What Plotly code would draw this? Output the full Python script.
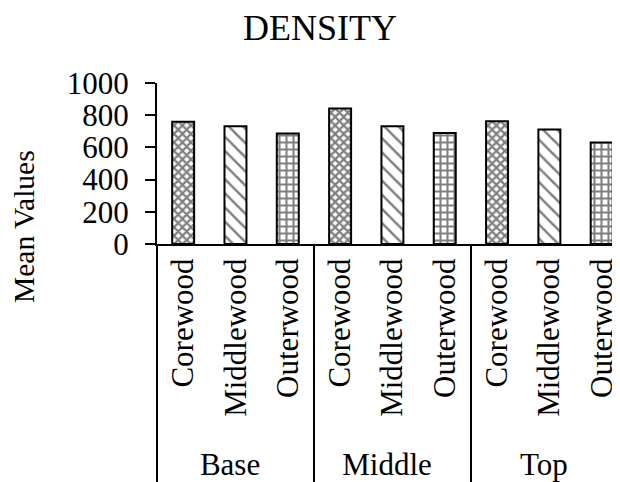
import plotly.graph_objects as go

groups = ["Base", "Base", "Base", "Middle", "Middle", "Middle", "Top", "Top", "Top"]
woods = ["Corewood", "Middlewood", "Outerwood"] * 3
values = [760, 732, 686, 841, 732, 690, 763, 711, 631]
patterns = ["x", "\\", "+"] * 3
pattern_sizes = [6, 10, 7] * 3
pattern_solidity = [0.6, 0.25, 0.5] * 3
y_ticks = [0, 200, 400, 600, 800, 1000]

FONT = "Liberation Serif, Times New Roman, serif"

# the page body adds an 8px margin, so the figure is drawn 8px smaller
W, H = 612, 474

fig = go.Figure(
    go.Bar(
        x=[groups, woods],
        y=values,
        marker=dict(
            color="white",
            line=dict(color="black", width=2),
            pattern=dict(shape=patterns, fgcolor="black", bgcolor="white",
                         size=pattern_sizes, solidity=pattern_solidity,
                         fillmode="overlay"),
        ),
        showlegend=False,
    )
)

fig.update_layout(
    width=W, height=H,
    margin=dict(l=149, r=0, t=75, b=238, autoexpand=False),
    paper_bgcolor="white", plot_bgcolor="white",
    font=dict(family=FONT, color="black", size=31),
    bargap=0.58,
    title=dict(text="DENSITY", x=312 / W, xref="container", xanchor="center",
               y=1 - 19 / H, yref="container", yanchor="middle",
               font=dict(size=36, family=FONT, color="black")),
    annotations=[
        dict(text="Mean Values", xref="paper", yref="paper",
             x=0, y=(244 - 227) / 161, xanchor="center", yanchor="middle",
             xshift=-(157 - 24), textangle=-90, showarrow=False,
             font=dict(size=29.5, family=FONT, color="black")),
    ],
)

fig.update_yaxes(
    range=[0, 1000], tickvals=y_ticks, showgrid=False, zeroline=False,
    showline=True, linecolor="black", linewidth=2, automargin=False,
    ticks="outside", ticklen=10, tickwidth=2, tickcolor="black",
    tickfont=dict(size=31, family=FONT, color="black"),
    ticklabelstandoff=10,
)

fig.update_xaxes(
    type="multicategory", range=[-0.5, 8.35], showgrid=False, zeroline=False,
    showline=True, linecolor="black", linewidth=2, automargin=False,
    ticks="", tickangle=-90,
    tickfont=dict(size=31, family=FONT, color="black"),
    showdividers=True, dividercolor="black", dividerwidth=2,
)

fig.write_html("out.html")
